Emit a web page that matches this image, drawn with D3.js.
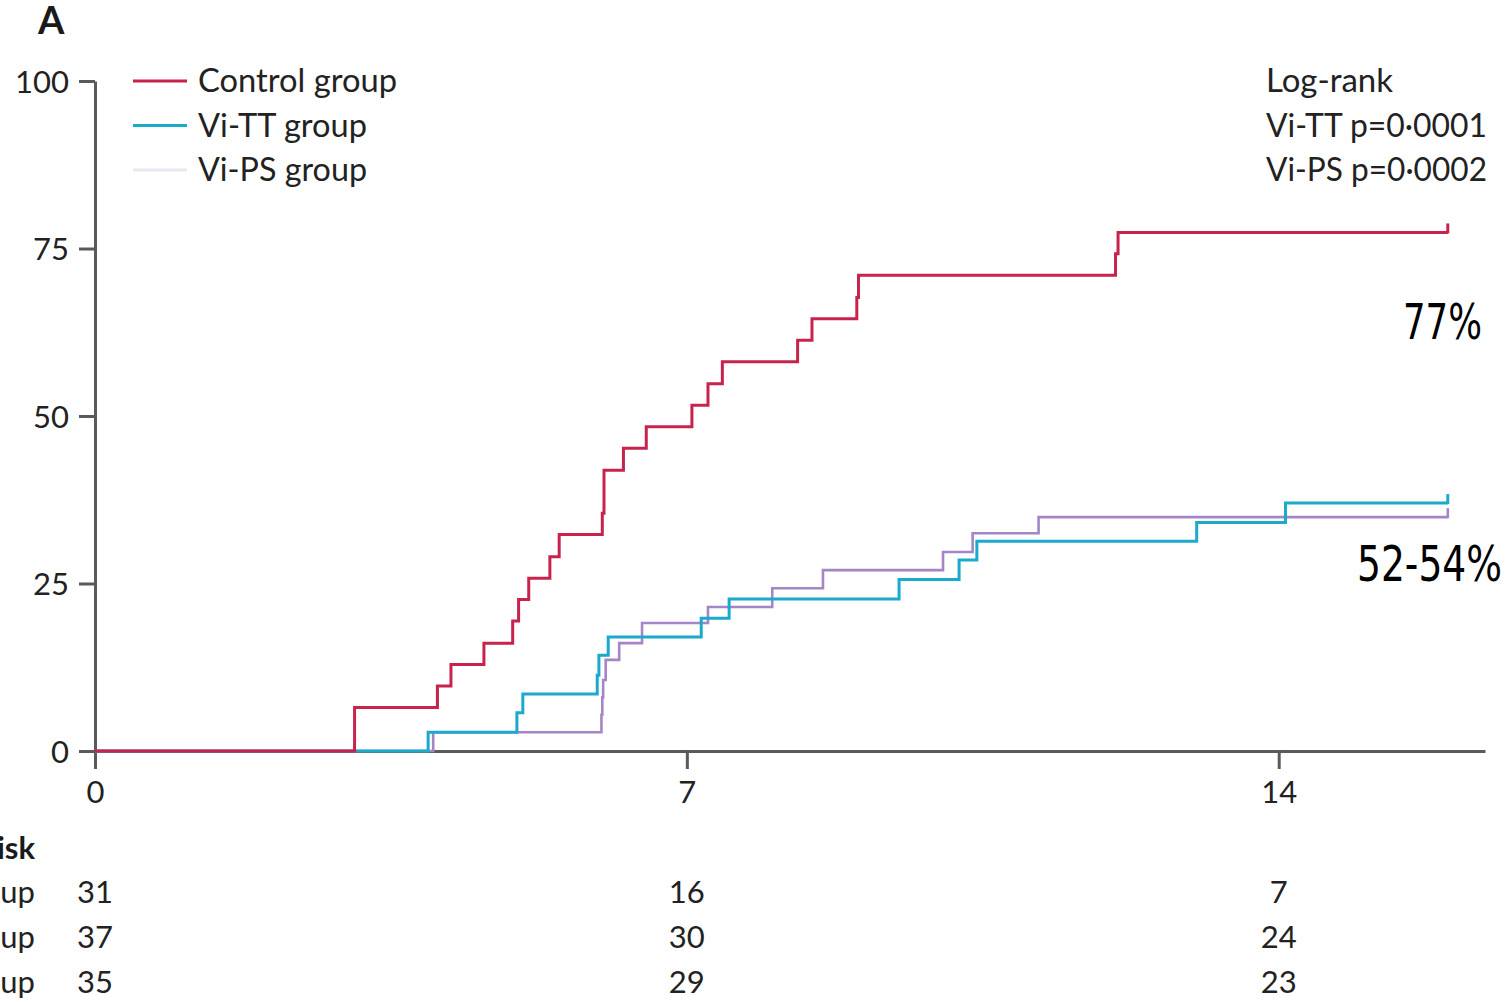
<!DOCTYPE html>
<html>
<head>
<meta charset="utf-8">
<script src="https://cdn.jsdelivr.net/npm/d3@7"></script>
<style>
  html, body { margin: 0; padding: 0; background: #fff; }
  svg { display: block; }
</style>
</head>
<body>
<svg id="chart" width="1508" height="1002"></svg>
<script>
// Cumulative incidence (%) by day since challenge, one step per event time
const groups = ["Control group", "Vi-TT group", "Vi-PS group"];
const groupColors = ["#c8234d", "#1ba9cc", "#a585c6"];
const legendColors = ["#c8234d", "#1ba9cc", "#e9e5f1"];

const controlDays   = [3.07, 4.05, 4.21, 4.60, 4.94, 5.01, 5.13, 5.38, 5.49, 6.00, 6.02, 6.25, 6.52, 7.06, 7.25, 7.42, 8.31, 8.48, 9.01, 9.03, 12.07, 12.10];
const controlValues = [6.5, 9.7, 12.9, 16.1, 19.4, 22.6, 25.8, 29.0, 32.3, 35.5, 41.9, 45.2, 48.4, 51.6, 54.8, 58.1, 61.3, 64.5, 67.7, 71.0, 74.2, 77.4];

const vittDays   = [3.94, 4.99, 5.06, 5.94, 5.96, 6.07, 7.17, 7.50, 9.51, 10.22, 10.43, 13.03, 14.08];
const vittValues = [2.8, 5.7, 8.5, 11.3, 14.3, 17.0, 19.8, 22.7, 25.6, 28.5, 31.3, 34.1, 37.0];

const vipsDays   = [4.00, 5.99, 6.00, 6.01, 6.04, 6.20, 6.47, 7.25, 8.01, 8.61, 10.03, 10.38, 11.16];
const vipsValues = [2.8, 5.4, 8.0, 10.6, 13.6, 16.1, 19.1, 21.5, 24.3, 27.0, 29.7, 32.5, 34.9];

const followUpEnd = 16.0;

const yTicks = [0, 25, 50, 75, 100];
const xTicks = [0, 7, 14];

const riskTimes = [0, 7, 14];
const riskControl = [31, 16, 7];
const riskVitt = [37, 30, 24];
const riskVips = [35, 29, 23];

const logRankLines = ["Log-rank", "Vi-TT p=0·0001", "Vi-PS p=0·0002"];

const FONT = "Lato, 'Open Sans', sans-serif";
const svg = d3.select("#chart");

const x = d3.scaleLinear().domain([0, 16.44]).range([95, 1485]);
const y = d3.scaleLinear().domain([0, 100]).range([751, 81]);

// Panel letter
svg.append("text").attr("x", 38).attr("y", 34)
  .attr("font-family", FONT).attr("font-weight", 700).attr("font-size", 38)
  .attr("fill", "#1a1a1a").text("A");

// Axes
const axisColor = "#5a5a5a";
const yAxis = svg.append("g").attr("transform", `translate(${x(0)},0)`)
  .call(d3.axisLeft(y).tickValues(yTicks).tickSize(16).tickSizeOuter(0).tickPadding(10));
const xAxis = svg.append("g").attr("transform", `translate(0,${y(0)})`)
  .call(d3.axisBottom(x).tickValues(xTicks).tickSize(18).tickSizeOuter(0).tickPadding(6));

[yAxis, xAxis].forEach(g => {
  g.select(".domain").attr("stroke", axisColor).attr("stroke-width", 3);
  g.selectAll(".tick line").attr("stroke", axisColor).attr("stroke-width", 3);
  g.selectAll(".tick text").attr("font-family", FONT).attr("font-size", 31).attr("fill", "#222");
});
yAxis.selectAll(".tick text").attr("dy", "0.36em");
xAxis.selectAll(".tick text").attr("dy", "0.9em");

// Step curves
const seriesList = [
  { days: controlDays, values: controlValues },
  { days: vittDays, values: vittValues },
  { days: vipsDays, values: vipsValues }
];

const line = d3.line().x(d => x(d[0])).y(d => y(d[1])).curve(d3.curveStepAfter);

// Draw purple first, then blue, then red on top
[2, 1, 0].forEach(i => {
  const s = seriesList[i];
  const pts = [[0, 0]];
  s.days.forEach((d, k) => pts.push([d, s.values[k]]));
  const last = s.values[s.values.length - 1];
  pts.push([followUpEnd, last]);
  svg.append("path").datum(pts)
    .attr("d", line)
    .attr("fill", "none")
    .attr("stroke", groupColors[i])
    .attr("stroke-width", i === 2 ? 2.6 : 3)
    .attr("stroke-linejoin", "miter");
  // censoring mark at end of follow-up
  svg.append("line")
    .attr("x1", x(followUpEnd)).attr("x2", x(followUpEnd))
    .attr("y1", y(last) + 1).attr("y2", y(last) - 9)
    .attr("stroke", groupColors[i]).attr("stroke-width", i === 2 ? 2.6 : 3);
});

// Redraw the baseline of the x axis under the flat start of curves
// (curves share the zero line; red sits on top as in the legend order)

// Legend
const legend = svg.append("g");
groups.forEach((g, i) => {
  const ly = 81 + i * 44.5;
  legend.append("line").attr("x1", 133).attr("x2", 187).attr("y1", ly).attr("y2", ly)
    .attr("stroke", legendColors[i]).attr("stroke-width", 3);
  legend.append("text").attr("x", 198).attr("y", ly + 11)
    .attr("font-family", FONT).attr("font-size", 32).attr("fill", "#222")
    .attr("textLength", i === 0 ? 199 : 169).attr("lengthAdjust", "spacingAndGlyphs")
    .text(g);
});

// Log-rank results
logRankLines.forEach((t, i) => {
  svg.append("text").attr("x", 1266).attr("y", 92 + i * 44.5)
    .attr("font-family", FONT).attr("font-size", 32).attr("fill", "#222")
    .attr("textLength", i === 0 ? 127 : (i === 1 ? 221 : 221)).attr("lengthAdjust", "spacingAndGlyphs")
    .text(t);
});

// End-of-follow-up annotations
svg.append("text").attr("x", 1482).attr("y", 339).attr("text-anchor", "end")
  .attr("font-family", "'DejaVu Sans Condensed', 'DejaVu Sans', sans-serif").attr("font-size", 50)
  .attr("fill", "#000").attr("textLength", 79).attr("lengthAdjust", "spacingAndGlyphs")
  .text("77%");
svg.append("text").attr("x", 1502).attr("y", 581).attr("text-anchor", "end")
  .attr("font-family", "'DejaVu Sans Condensed', 'DejaVu Sans', sans-serif").attr("font-size", 50)
  .attr("fill", "#000").attr("textLength", 145).attr("lengthAdjust", "spacingAndGlyphs")
  .text("52-54%");

// Number at risk table
svg.append("text").attr("x", 35).attr("y", 859).attr("text-anchor", "end")
  .attr("font-family", FONT).attr("font-weight", 700).attr("font-size", 31)
  .attr("fill", "#1a1a1a").text("Number at risk");

const riskRows = [riskControl, riskVitt, riskVips];
riskRows.forEach((row, i) => {
  const ry = 903 + i * 45;
  svg.append("text").attr("x", 35).attr("y", ry).attr("text-anchor", "end")
    .attr("font-family", FONT).attr("font-size", 31).attr("fill", "#222").text(groups[i]);
  row.forEach((n, k) => {
    svg.append("text").attr("x", x(riskTimes[k])).attr("y", ry).attr("text-anchor", "middle")
      .attr("font-family", FONT).attr("font-size", 31).attr("fill", "#222").text(n);
  });
});
</script>
</body>
</html>
